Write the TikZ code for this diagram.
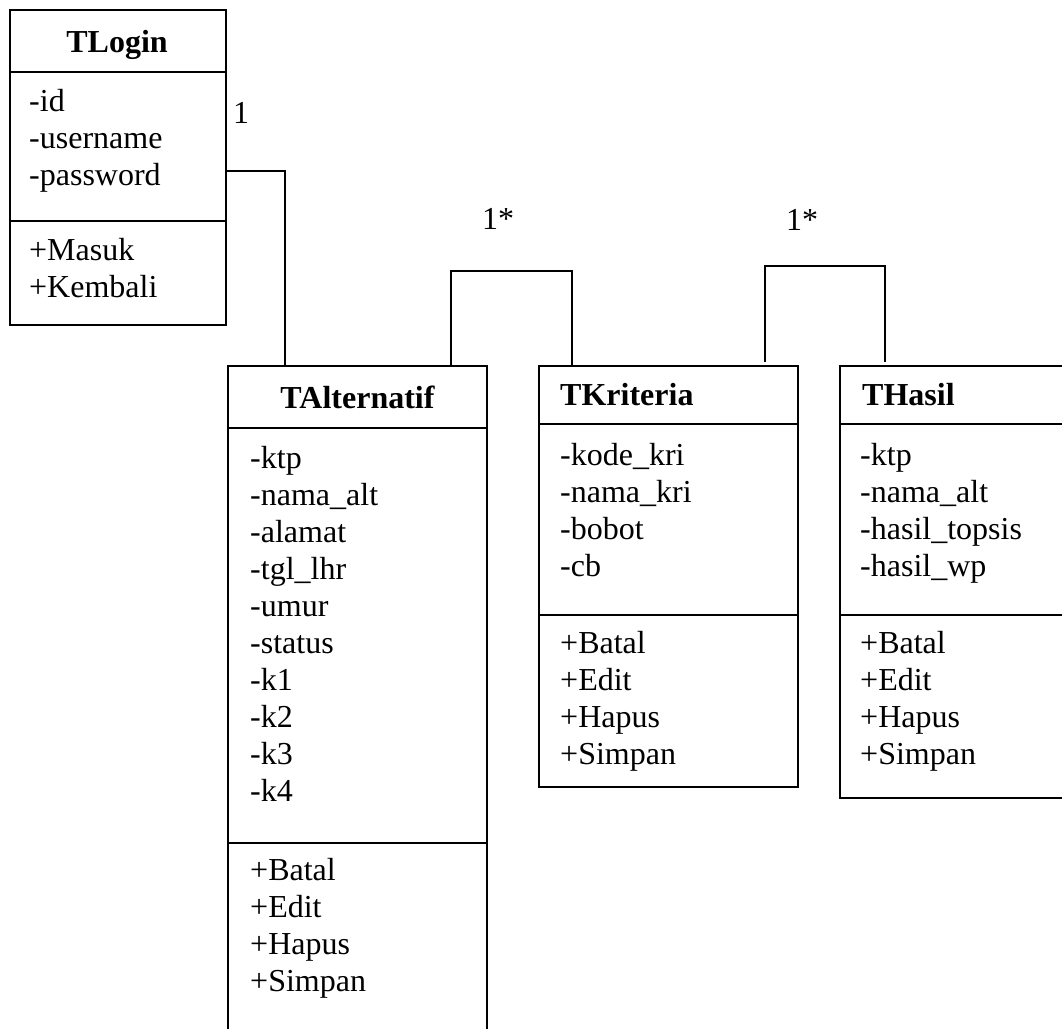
\documentclass[tikz,border=0pt]{standalone}
\usepackage{fontspec}
\setmainfont{Liberation Serif}
\begin{document}
\begin{tikzpicture}[x=1pt,y=-1pt,
    kotak/.style={draw,line width=1.4pt,anchor=north west,inner sep=0pt,outer sep=0pt},
    judul/.style={font=\fontsize{32}{37}\selectfont\bfseries,inner sep=0pt},
    daftar/.style={font=\fontsize{32}{37}\selectfont,align=left,inner sep=0pt,anchor=base west},
    garis/.style={line width=1.4pt},
    label/.style={font=\fontsize{32}{37}\selectfont,inner sep=0pt}]
    \useasboundingbox (0,0) rectangle (1062,1028);

    %%%%%%%%%% TLogin %%%%%%%%%%
    \node[kotak,minimum width=216pt,minimum height=62pt] (loginJudul) at (10,10) {};
    \node[kotak,minimum width=216pt,minimum height=149pt] (loginAtribut) at (loginJudul.south west) {};
    \node[kotak,minimum width=216pt,minimum height=104pt] (loginMetode) at (loginAtribut.south west) {};
    \node[judul,anchor=base] (loginNama) at (117,52) {TLogin};
    \node[daftar] (loginAtr) at (29,185) {-id\\-username\\-password};
    \node[daftar] (loginMet) at (29,297) {+Masuk\\+Kembali};

    %%%%%%%%%% TAlternatif %%%%%%%%%%
    \node[kotak,minimum width=259pt,minimum height=62pt] (altJudul) at (228,366) {};
    \node[kotak,minimum width=259pt,minimum height=415pt] (altAtribut) at (altJudul.south west) {};
    \node[kotak,minimum width=259pt,minimum height=200pt] (altMetode) at (altAtribut.south west) {};
    \node[judul,anchor=base] (altNama) at (357.5,408) {TAlternatif};
    \node[daftar] (altAtr) at (250,801) {-ktp\\-nama\_alt\\-alamat\\-tgl\_lhr\\-umur\\-status\\-k1\\-k2\\-k3\\-k4};
    \node[daftar] (altMet) at (250,991) {+Batal\\+Edit\\+Hapus\\+Simpan};

    %%%%%%%%%% TKriteria %%%%%%%%%%
    \node[kotak,minimum width=259pt,minimum height=58pt] (kriJudul) at (539,366) {};
    \node[kotak,minimum width=259pt,minimum height=191pt] (kriAtribut) at (kriJudul.south west) {};
    \node[kotak,minimum width=259pt,minimum height=172pt] (kriMetode) at (kriAtribut.south west) {};
    \node[judul,anchor=base west] (kriNama) at (560,405) {TKriteria};
    \node[daftar] (kriAtr) at (560,576) {-kode\_kri\\-nama\_kri\\-bobot\\-cb};
    \node[daftar] (kriMet) at (560,764) {+Batal\\+Edit\\+Hapus\\+Simpan};

    %%%%%%%%%% THasil %%%%%%%%%%
    \node[kotak,minimum width=240pt,minimum height=58pt] (hasilJudul) at (840,366) {};
    \node[kotak,minimum width=240pt,minimum height=191pt] (hasilAtribut) at (hasilJudul.south west) {};
    \node[kotak,minimum width=240pt,minimum height=183pt] (hasilMetode) at (hasilAtribut.south west) {};
    \node[judul,anchor=base west] (hasilNama) at (862,405) {THasil};
    \node[daftar] (hasilAtr) at (860,576) {-ktp\\-nama\_alt\\-hasil\_topsis\\-hasil\_wp};
    \node[daftar] (hasilMet) at (860,764) {+Batal\\+Edit\\+Hapus\\+Simpan};

    %%%%%%%%% Relasi %%%%%%%%%
    \draw[garis] ([yshift=-24.5pt]loginAtribut.east) -| ([xshift=-72.5pt]altJudul.north);
    \draw[garis] ([xshift=93.5pt]altJudul.north) -- ++(0pt,95pt) -| ([xshift=-96.5pt]kriJudul.north);
    \draw[garis] ([shift={(96.5pt,4pt)}]kriJudul.north) -- ++(0pt,96pt) -| ([shift={(-75pt,4pt)}]hasilJudul.north);

    \node[label] (kardLogin) at (241,113) {1};
    \node[label] (kardAlt) at (498,219) {1*};
    \node[label] (kardKri) at (802,220) {1*};
\end{tikzpicture}
\end{document}
